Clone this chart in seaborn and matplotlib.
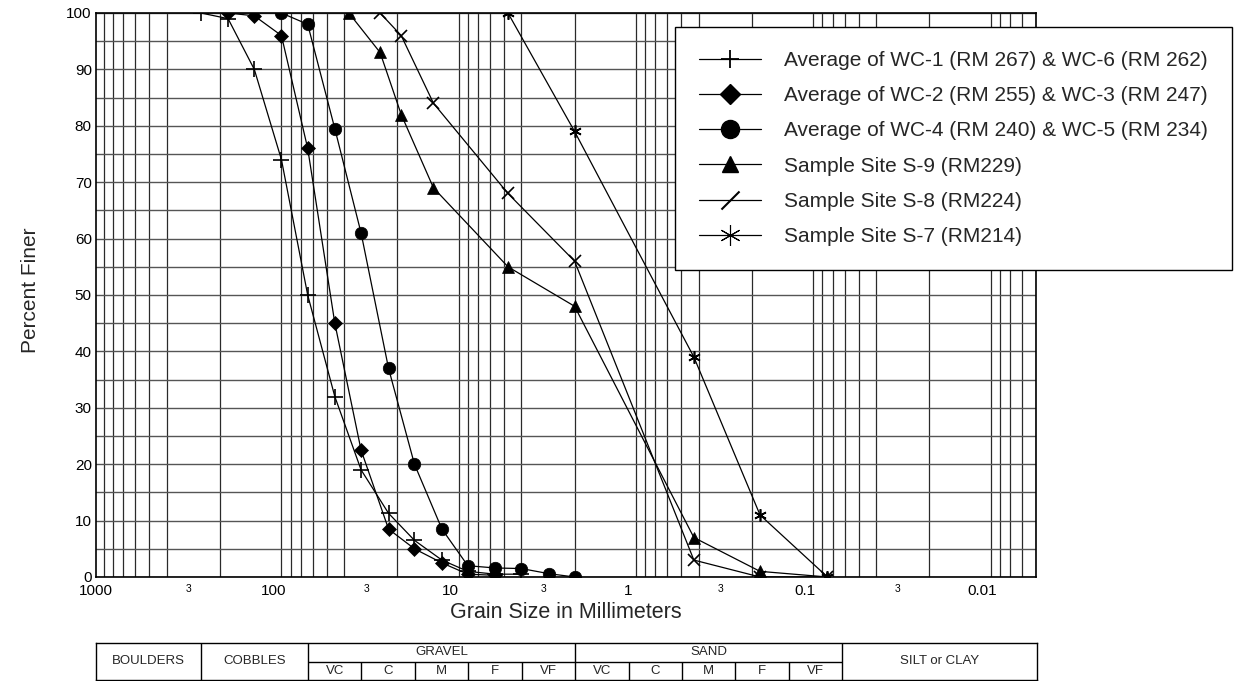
import numpy as np
import pandas as pd
import matplotlib
matplotlib.use("Agg")
import matplotlib.pyplot as plt
from matplotlib.path import Path
from matplotlib.lines import Line2D
from matplotlib.ticker import FixedLocator, NullFormatter
import seaborn as sns

# ---------------- data ----------------
labels = [
    "Average of WC-1 (RM 267) & WC-6 (RM 262)",
    "Average of WC-2 (RM 255) & WC-3 (RM 247)",
    "Average of WC-4 (RM 240) & WC-5 (RM 234)",
    "Sample Site S-9 (RM229)",
    "Sample Site S-8 (RM224)",
    "Sample Site S-7 (RM214)",
]
wc16_size = [256, 180, 128, 90, 64, 45, 32, 22.4, 16, 11.2, 8, 5.6, 4]
wc16_pct = [100, 99, 90, 74, 50, 32, 19, 11.3, 6.5, 3, 1, 0.5, 0.5]
wc23_size = [180, 128, 90, 64, 45, 32, 22.4, 16, 11.2, 8, 5.6]
wc23_pct = [100, 99.5, 96, 76, 45, 22.5, 8.5, 5, 2.5, 0.5, 0.3]
wc45_size = [90, 64, 45, 32, 22.4, 16, 11.2, 8, 5.6, 4, 2.8, 2]
wc45_pct = [100, 98, 79.5, 61, 37, 20, 8.5, 2, 1.6, 1.5, 0.6, 0]
s9_size = [37.5, 25, 19, 12.5, 4.75, 2, 0.425, 0.18, 0.075]
s9_pct = [100, 93, 82, 69, 55, 48, 7, 1, 0]
s8_size = [25, 19, 12.5, 4.75, 2, 0.425, 0.18, 0.075]
s8_pct = [100, 96, 84, 68, 56, 3, 0, 0]
s7_size = [4.75, 2, 0.425, 0.18, 0.075]
s7_pct = [100, 79, 39, 11, 0]

xtick_vals = [1000, 300, 100, 30, 10, 3, 1, 0.3, 0.1, 0.03, 0.01]
xtick_text = ["1000", "3", "100", "3", "10", "3", "1", "3", "0.1", "3", "0.01"]
yticks = list(range(0, 101, 10))

# grain size classification table (mm boundaries)
class_full = [256, 64, 2, 0.0625]
class_sub = [32, 16, 8, 4, 1, 0.5, 0.25, 0.125]
class_main = [("BOULDERS", 1000, 256), ("COBBLES", 256, 64), ("SILT or CLAY", 0.0625, 0.005)]
class_head = [("GRAVEL", 64, 2), ("SAND", 2, 0.0625)]
class_subl = [("VC", 64, 32), ("C", 32, 16), ("M", 16, 8), ("F", 8, 4), ("VF", 4, 2),
              ("VC", 2, 1), ("C", 1, 0.5), ("M", 0.5, 0.25), ("F", 0.25, 0.125), ("VF", 0.125, 0.0625)]

# ---------------- style ----------------
sns.set_theme(style="white")
plt.rcParams["font.family"] = ["Liberation Sans", "DejaVu Sans"]

W, H = 1238, 681
fig = plt.figure(figsize=(W / 100, H / 100), dpi=100)
ax = fig.add_axes([96 / W, 104 / H, 940 / W, 564 / H])

slash = Path([(-1, -1), (1, 1)], [Path.MOVETO, Path.LINETO])
asterisk = (6, 2, 0)

series = [
    (wc16_size, wc16_pct, "+", 11, 13),
    (wc23_size, wc23_pct, "D", 7.5, 10),
    (wc45_size, wc45_pct, "o", 9, 13),
    (s9_size, s9_pct, "^", 8.5, 12),
    (s8_size, s8_pct, "x", 8.5, 13),
    (s7_size, s7_pct, asterisk, 9, 15),
]

for xs, ys, mk, ms, _ in series:
    df = pd.DataFrame({"size": xs, "pct": ys})
    filled = mk in ("D", "o", "^")
    sns.lineplot(data=df, x="size", y="pct", ax=ax, color="black", lw=0.9,
                 marker=mk, markersize=ms, markeredgewidth=1.2 if not filled else 0.5,
                 markerfacecolor="black", markeredgecolor="black",
                 sort=False, errorbar=None, estimator=None, zorder=3)

ax.set_xscale("log")
ax.set_xlim(1000, 0.005)
ax.set_ylim(0, 100)

minor = []
for e in range(-3, 3):
    for k in range(1, 10):
        v = k * 10.0 ** e
        if 0.005 <= v <= 1000:
            minor.append(v)
minor.append(1000)
ax.xaxis.set_major_locator(FixedLocator(xtick_vals))
ax.set_xticklabels(xtick_text)
ax.xaxis.set_minor_locator(FixedLocator(minor))
ax.xaxis.set_minor_formatter(NullFormatter())
ax.set_yticks(yticks)
ax.yaxis.set_minor_locator(FixedLocator(list(range(5, 100, 10))))

ax.grid(False)
ax.grid(True, which="minor", axis="x", color="#2a2a2a", lw=0.9)
ax.grid(True, which="both", axis="y", color="#555555", lw=1.0)
ax.set_axisbelow(True)

ax.tick_params(axis="both", which="both", length=0)
ax.tick_params(axis="x", labelsize=11, pad=5, colors="black")
ax.tick_params(axis="y", labelsize=11, pad=3, colors="black")
for t in ax.get_xticklabels():
    if t.get_text() == "3":
        t.set_fontsize(7.5)
for s in ax.spines.values():
    s.set_color("black")
    s.set_linewidth(1.2)
ax.set_xlabel("")
ax.set_ylabel("")

fig.text(566 / W, 1 - 613 / H, "Grain Size in Millimeters", ha="center", va="center", fontsize=15.5)
fig.text(30 / W, 1 - 290 / H, "Percent Finer", ha="center", va="center", rotation=90, fontsize=15)

# legend
handles = []
for xs, ys, mk, _, lms in series:
    if mk == "x":
        h = Line2D([0], [0], color="black", lw=0.9, marker=slash, markersize=lms,
                   markeredgewidth=1.5, markeredgecolor="black")
    elif mk in ("+", asterisk):
        h = Line2D([0], [0], color="black", lw=0.9, marker=mk, markersize=lms,
                   markeredgewidth=1.3 if mk == "+" else 0.8, markeredgecolor="black")
    else:
        h = Line2D([0], [0], color="black", lw=0.9, marker=mk, markersize=lms,
                   markerfacecolor="black", markeredgecolor="black")
    handles.append(h)

leg = fig.legend(handles, labels, loc="upper left", bbox_to_anchor=(675 / W, 1 - 27 / H),
                 bbox_transform=fig.transFigure, frameon=True, fancybox=False,
                 edgecolor="black", framealpha=1, fontsize=15, handlelength=3.0,
                 handletextpad=1.1, labelspacing=0.78, borderpad=1.15, borderaxespad=0,
                 numpoints=1)
leg.get_frame().set_linewidth(1.0)

# classification table
tax = fig.add_axes([96 / W, 1 / H, 941 / W, 37 / H])
tax.set_xscale("log")
tax.set_xlim(1000, 0.005)
tax.set_ylim(0, 2)
tax.set_xticks([])
tax.set_yticks([])
tax.xaxis.set_minor_locator(FixedLocator([]))
for s in tax.spines.values():
    s.set_color("black")
    s.set_linewidth(1.0)
tax.vlines(class_full, 0, 2, color="black", lw=1.0)
tax.vlines(class_sub, 0, 1, color="black", lw=1.0)
tax.hlines(1, 64, 0.0625, color="black", lw=1.0)
for name, a, b in class_main:
    tax.text(np.sqrt(a * b), 1, name, ha="center", va="center", fontsize=9.5)
for name, a, b in class_head:
    tax.text(np.sqrt(a * b), 1.5, name, ha="center", va="center", fontsize=9.5)
for name, a, b in class_subl:
    tax.text(np.sqrt(a * b), 0.5, name, ha="center", va="center", fontsize=9.5)

fig.savefig("out.png", dpi=100)
